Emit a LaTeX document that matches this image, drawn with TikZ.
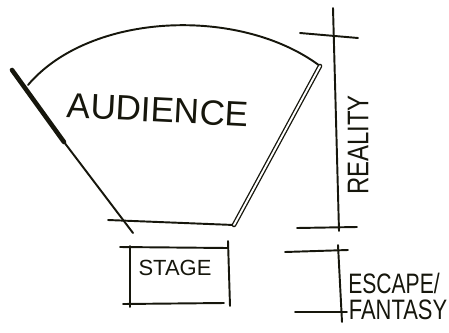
\documentclass[tikz,border=0pt]{standalone}
\usepackage{fontspec}
\setmainfont{Liberation Sans}
\definecolor{ink}{RGB}{22, 22, 12}

\begin{document}
\begin{tikzpicture}[x=0.02cm, y=-0.02cm,
        sketch/.style={draw=ink, line width=1.1pt, line cap=round, line join=round},
        hand/.style={text=ink, inner sep=0pt, font=\fontsize{#1}{#1}\selectfont}]
    \useasboundingbox (0,0) rectangle (449,332);
    % seating outline
    \coordinate (wallTop) at (12,70);
    \coordinate (wallMid) at (64,142);
    \coordinate (wallBot) at (133,233);
    \coordinate (arcL) at (28,85);
    \coordinate (arcR) at (320,66);
    \coordinate (frontL) at (108,220);
    \coordinate (frontR) at (234,225);
    \draw[sketch] (arcL) .. controls (90,12) and (240,6) .. (arcR);
    \draw[sketch, line width=2.6pt] (wallTop) -- (wallMid);
    \draw[sketch] (wallMid) -- (wallBot);
    \draw[sketch] (frontL) -- (frontR);
    \draw[sketch, line width=0.75pt, double=white, double distance=1.1pt] (frontR) -- (arcR);
    \node[hand=20, rotate=-3] (audience) at (158,110) {AUDIENCE};
    % stage
    \coordinate (stTL) at (120,247);
    \coordinate (stTR) at (228,248);
    \coordinate (stBL) at (123,304);
    \coordinate (stBR) at (224,303);
    \draw[sketch] (stTL) -- (stTR);
    \draw[sketch] (stBL) -- (stBR);
    \draw[sketch] (130,246) -- (130,307);
    \draw[sketch] (228,241) -- (230,306);
    \node[hand=12.5] (stage) at (175,268) {STAGE};
    % dimension: reality
    \coordinate (realTop) at (333,8);
    \coordinate (realBot) at (339,231);
    \draw[sketch] (realTop) -- (realBot);
    \draw[sketch] (300,33) -- (358,38);
    \draw[sketch] (297,228) -- (357,227);
    \node[hand=17, rotate=90, xscale=0.8] (reality) at (358,145) {REALITY};
    % dimension: escape / fantasy
    \coordinate (escTop) at (338,245);
    \coordinate (escBot) at (342,322);
    \draw[sketch] (escTop) -- (escBot);
    \draw[sketch] (285,252) -- (348,250);
    \draw[sketch] (295,312) -- (347,312);
    \node[hand=16, xscale=0.75] (escape) at (394,283) {ESCAPE/};
    \node[hand=16, xscale=0.78] (fantasy) at (398,310) {FANTASY};
\end{tikzpicture}
\end{document}
